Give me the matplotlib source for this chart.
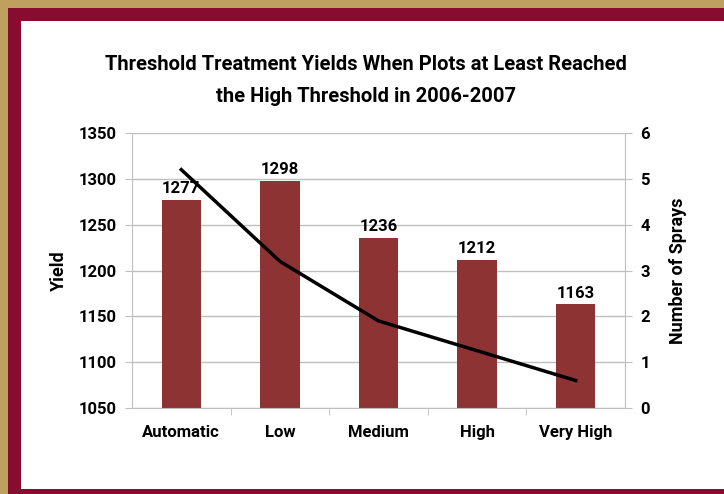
import matplotlib.pyplot as plt
from matplotlib.patches import Rectangle

categories = ["Automatic", "Low", "Medium", "High", "Very High"]
yields = [1277, 1298, 1236, 1212, 1163]
sprays = [5.2, 3.2, 1.9, 1.25, 0.6]

plt.rcParams['font.family'] = ['Roboto', 'DejaVu Sans']
plt.rcParams['font.weight'] = 'bold'

W, H = 724, 494
fig = plt.figure(figsize=(W / 100, H / 100), dpi=100)
fig.patch.set_facecolor('#bfa05f')

# frame: gold outside, maroon band, white panel
fig.patches.append(Rectangle((8 / W, 0), 1, 1 - 8 / H, transform=fig.transFigure,
                             facecolor='#880c2f', edgecolor='none', zorder=-2))
fig.patches.append(Rectangle((21 / W, 5 / H), 1, 1 - 26 / H, transform=fig.transFigure,
                             facecolor='white', edgecolor='none', zorder=-1))

ax = fig.add_axes([132 / W, 1 - 408 / H, (625 - 132) / W, (408 - 133) / H])
ax.set_facecolor('none')
x = range(len(categories))
ax.bar(x, yields, width=0.4, color='#8e3333', zorder=2)
for xi, v in zip(x, yields):
    ax.text(xi, v + 4, str(v), ha='center', va='bottom', fontsize=12, fontweight='bold', zorder=4)

ax.set_ylim(1050, 1350)
ax.set_xlim(-0.5, len(categories) - 0.5)
ax.set_yticks(range(1050, 1351, 50))
ax.set_xticks(list(x))
ax.set_xticklabels(categories)
ax.set_xticks([i + 0.5 for i in range(len(categories) - 1)], minor=True)
ax.tick_params(axis='x', which='major', length=0, pad=12, labelsize=12)
ax.tick_params(axis='x', which='minor', length=5, color='#bfbfbf', direction='out')
ax.tick_params(axis='y', length=5, color='#bfbfbf', labelsize=12, pad=6)
ax.grid(axis='y', color='#bfbfbf', linewidth=1, zorder=0)
ax.set_axisbelow(True)
for s in ['top', 'right']:
    ax.spines[s].set_visible(False)
for s in ['left', 'bottom']:
    ax.spines[s].set_color('#bfbfbf')
ax.set_ylabel("Yield", fontsize=13, fontweight='bold', labelpad=8)

ax2 = ax.twinx()
ax2.plot(list(x), sprays, color='black', linewidth=2.5, zorder=5)
ax2.set_ylim(0, 6)
ax2.set_yticks(range(0, 7))
ax2.tick_params(axis='y', length=5, color='#bfbfbf', labelsize=12, pad=6)
for s in ['top', 'left', 'bottom']:
    ax2.spines[s].set_visible(False)
ax2.spines['right'].set_color('#bfbfbf')
ax2.set_ylabel("Number of Sprays", fontsize=13, fontweight='bold', labelpad=14)

fig.text(0.505, 1 - 64 / H, "Threshold Treatment Yields When Plots at Least Reached",
         ha='center', va='center', fontsize=14.5, fontweight='bold')
fig.text(0.505, 1 - 97 / H, "the High Threshold in 2006-2007",
         ha='center', va='center', fontsize=14.5, fontweight='bold')

fig.savefig('out.png', dpi=100)
